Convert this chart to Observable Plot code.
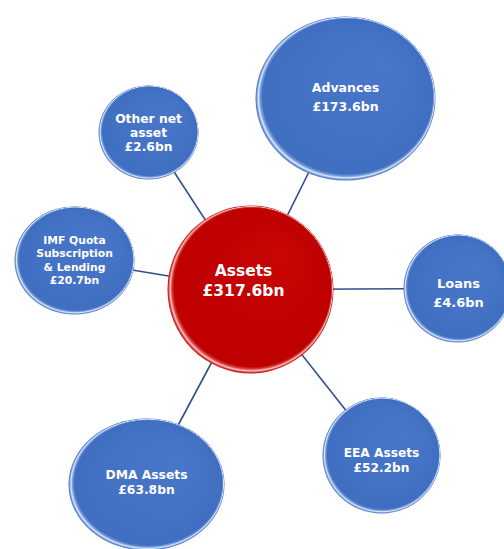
<!DOCTYPE html>
<html>
<head>
<meta charset="utf-8">
<script src="https://cdn.jsdelivr.net/npm/d3@7"></script>
<script src="https://cdn.jsdelivr.net/npm/@observablehq/plot@0.6"></script>
<style>
  html, body { margin: 0; padding: 0; background: #ffffff; }
  #chart svg { display: block; }
</style>
</head>
<body>
<div id="chart"></div>
<script>
// ---- data ----
const totalLabel = "Assets";
const totalValue = 317.6;
const categories = ["Advances", "Loans", "EEA Assets", "DMA Assets", "IMF Quota\nSubscription\n& Lending", "Other net\nasset"];
const values = [173.6, 4.6, 52.2, 63.8, 20.7, 2.6];

// ---- layout (pixel space) ----
const hub = {cx: 250, cy: 289, rx: 83, ry: 84, tx: 243, ty: 279, fs: 15.5, lh: 1.3};
const nodeCx = [345, 457, 381, 146, 74, 148];
const nodeCy = [98, 288, 455, 484, 260, 132];
const nodeRx = [90, 54, 59, 78, 60, 50];
const nodeRy = [82, 54, 58, 66, 54, 47];
const textX  = [345, 458, 381, 146, 74, 148];
const textY  = [95, 291, 459, 481, 259, 132];
const fontSz = [12.5, 13, 12.2, 12.3, 10.8, 12.3];
const lineH  = [1.5, 1.45, 1.2, 1.2, 1.25, 1.12];

const fmt = v => "£" + v.toFixed(1) + "bn";

const nodes = categories.map((c, i) => ({
  label: c, value: values[i],
  cx: nodeCx[i], cy: nodeCy[i], rx: nodeRx[i], ry: nodeRy[i],
  tx: textX[i], ty: textY[i], fs: fontSz[i], lh: lineH[i],
  fill: "url(#gBlue)"
}));
const hubNode = {label: totalLabel, value: totalValue, ...hub, fill: "url(#gRed)"};

const NS = "http://www.w3.org/2000/svg";
function defsMark() {
  const defs = document.createElementNS(NS, "defs");
  const mk = (id, stops) => {
    const g = document.createElementNS(NS, "radialGradient");
    g.setAttribute("id", id);
    g.setAttribute("cx", "0.5"); g.setAttribute("cy", "0.5"); g.setAttribute("r", "0.5");
    g.setAttribute("fx", "0.72"); g.setAttribute("fy", "0.28");
    for (const [o, c] of stops) {
      const s = document.createElementNS(NS, "stop");
      s.setAttribute("offset", o); s.setAttribute("stop-color", c);
      g.appendChild(s);
    }
    defs.appendChild(g);
  };
  mk("gBlue", [[0, "#4877ca"], [0.6, "#4472c4"], [0.945, "#406ec0"], [0.965, "#7aa0dc"], [0.978, "#dfeafa"], [0.99, "#6e95d6"], [1, "#4d75bf"]]);
  mk("gRed", [[0, "#c80606"], [0.6, "#c20202"], [0.945, "#be0000"], [0.965, "#d84a4a"], [0.978, "#fbc8c8"], [0.99, "#d63a3a"], [1, "#c41414"]]);
  return defs;
}

// draw each dot as an ellipse (rx from r channel, ry from datum)
function ellipseRender(index, scales, vals, dims, ctx, next) {
  const g = next(index, scales, vals, dims, ctx);
  const circles = Array.from(g.querySelectorAll("circle"));
  circles.forEach((c, j) => {
    const i = index[j];
    const d = this.data ? this.data[i] : null;
    const e = document.createElementNS(NS, "ellipse");
    for (const a of Array.from(c.attributes)) {
      if (a.name !== "r") e.setAttribute(a.name, a.value);
    }
    const r = +c.getAttribute("r");
    e.setAttribute("rx", r);
    e.setAttribute("ry", d ? d.ry : r);
    c.replaceWith(e);
  });
  return g;
}

const all = [...nodes, hubNode];

const textMarks = all.map(n => Plot.text([n], {
  x: "tx", y: "ty",
  text: d => d.label + "\n" + fmt(d.value),
  fill: "white",
  fontSize: n.fs,
  lineHeight: n.lh,
  fontWeight: "bold",
  fontFamily: "DejaVu Sans, sans-serif",
  textAnchor: "middle"
}));

const chart = Plot.plot({
  width: 504,
  height: 549,
  margin: 0,
  x: {domain: [0, 504], range: [0, 504], axis: null},
  y: {domain: [0, 549], range: [0, 549], axis: null},
  r: {type: "identity"},
  style: {background: "white"},
  marks: [
    defsMark,
    Plot.link(nodes, {
      x1: () => hub.cx, y1: () => hub.cy, x2: "cx", y2: "cy",
      stroke: "#2f4f8f", strokeWidth: 1.6
    }),
    Plot.dot(all, {
      x: "cx", y: "cy", r: "rx",
      fill: "fill", stroke: "none",
      render: ellipseRender
    }),
    ...textMarks
  ]
});

document.getElementById("chart").appendChild(chart);
</script>
</body>
</html>
